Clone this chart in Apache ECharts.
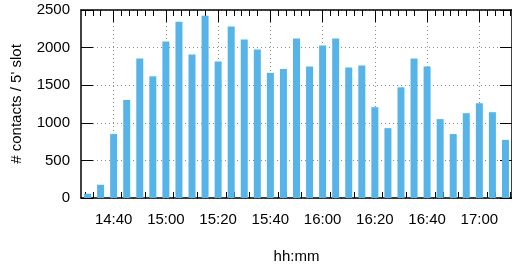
<!DOCTYPE html>
<html>
<head>
<meta charset="utf-8">
<script src="https://cdn.jsdelivr.net/npm/echarts@6/dist/echarts.min.js"></script>
<style>
  html, body { margin: 0; padding: 0; background: #fff; }
  #chart { width: 512px; height: 269px; }
</style>
</head>
<body>
<div id="chart"></div>
<script>
// 5-minute slots and contact counts
const slotTimes = ['14:30', '14:35', '14:40', '14:45', '14:50', '14:55',
    '15:00', '15:05', '15:10', '15:15', '15:20', '15:25', '15:30', '15:35',
    '15:40', '15:45', '15:50', '15:55', '16:00', '16:05', '16:10', '16:15',
    '16:20', '16:25', '16:30', '16:35', '16:40', '16:45', '16:50', '16:55',
    '17:00', '17:05', '17:10'];
const contacts = [57, 176, 850, 1304, 1856, 1618,
    2081, 2345, 1909, 2423, 1816, 2279, 2107, 1975,
    1664, 1717, 2120, 1750, 2028, 2120, 1736, 1763,
    1207, 929, 1472, 1856, 1750, 1049, 850, 1128,
    1260, 1141, 773];
const majorTimes = ['14:40', '15:00', '15:20', '15:40', '16:00', '16:20', '16:40', '17:00'];
const yTicks = [0, 500, 1000, 1500, 2000, 2500];

function toMin(s) {
    let p = s.split(':');
    return +p[0] * 60 + +p[1];
}
function fmt(m) {
    let h = Math.floor(m / 60), mm = Math.round(m % 60);
    return h + ':' + (mm < 10 ? '0' : '') + mm;
}

const xMin = toMin(slotTimes[0]) - 2.5;
const xMax = toMin(slotTimes[slotTimes.length - 1]) + 2.5;
const majors = majorTimes.map(toMin);
// gnuplot minor ticks: 3,6,9,12,15 min after each major
let minors = [];
for (let m = majors[0] - 20; m <= majors[majors.length - 1]; m += 20) {
    for (let k = 3; k <= 15; k += 3) {
        if (m + k > xMin && m + k < xMax) minors.push(m + k);
    }
}

const font = 'Liberation Sans, Arial, sans-serif';
const black = '#000';
const gridLine = {show: true, lineStyle: {color: '#8a8a8a', type: [1, 3], width: 1}};
const frame = {show: true, onZero: false, lineStyle: {color: black, width: 1.5}};
const noLine = {show: false, onZero: false};

let chart = echarts.init(document.getElementById('chart'));
chart.setOption({
    animation: false,
    grid: {left: 81, right: -5, top: 10, bottom: 70},
    xAxis: [{
        type: 'value', position: 'bottom', min: xMin, max: xMax,
        axisLine: frame,
        axisTick: {show: true, inside: true, length: 12, customValues: majors, lineStyle: {color: black}},
        axisLabel: {customValues: majors, formatter: fmt, color: black, fontSize: 15, fontFamily: font, margin: 14},
        splitLine: gridLine,
        name: 'hh:mm', nameLocation: 'middle', nameGap: 51,
        nameTextStyle: {color: black, fontSize: 15, fontFamily: font}
    }, {
        type: 'value', position: 'bottom', min: xMin, max: xMax,
        axisLine: noLine,
        axisTick: {show: true, inside: true, length: 6, customValues: minors, lineStyle: {color: black}},
        axisLabel: {show: false},
        splitLine: {show: false}
    }, {
        type: 'value', position: 'top', min: xMin, max: xMax,
        axisLine: frame,
        axisTick: {show: true, inside: true, length: 12, customValues: majors, lineStyle: {color: black}},
        axisLabel: {show: false},
        splitLine: {show: false}
    }, {
        type: 'value', position: 'top', min: xMin, max: xMax,
        axisLine: noLine,
        axisTick: {show: true, inside: true, length: 6, customValues: minors, lineStyle: {color: black}},
        axisLabel: {show: false},
        splitLine: {show: false}
    }],
    yAxis: [{
        type: 'value', position: 'left', min: yTicks[0], max: yTicks[yTicks.length - 1], interval: 500,
        axisLine: frame,
        axisTick: {show: true, inside: true, length: 12, lineStyle: {color: black}},
        axisLabel: {color: black, fontSize: 15, fontFamily: font, margin: 11, formatter: v => String(v)},
        splitLine: gridLine,
        name: "# contacts / 5' slot", nameLocation: 'middle', nameRotate: 90, nameGap: 57,
        nameTextStyle: {color: black, fontSize: 15, fontFamily: font}
    }, {
        type: 'value', position: 'right', min: yTicks[0], max: yTicks[yTicks.length - 1], interval: 500,
        axisLine: frame,
        axisTick: {show: true, inside: true, length: 12, lineStyle: {color: black}},
        axisLabel: {show: false},
        splitLine: {show: false}
    }],
    series: [{
        type: 'bar',
        xAxisIndex: 0,
        yAxisIndex: 0,
        barWidth: 7,
        itemStyle: {color: '#56b4e9'},
        data: slotTimes.map((t, i) => [toMin(t), contacts[i]])
    }]
});
</script>
</body>
</html>
